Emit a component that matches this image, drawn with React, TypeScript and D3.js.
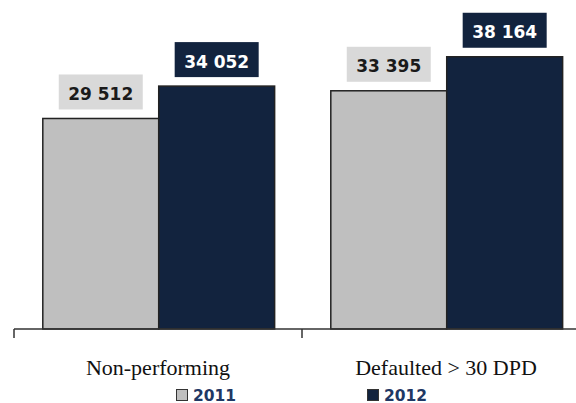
import React from "react";
import * as d3 from "d3";

const categories = ["Non-performing", "Defaulted > 30 DPD"];
const seriesNames = ["2011", "2012"];
const values2011 = [29512, 33395];
const values2012 = [34052, 38164];
const seriesColors = ["#bfbfbf", "#12233e"];
const labelBoxColors = ["#d9d9d9", "#12233e"];
const labelTextColors = ["#1a1a1a", "#ffffff"];

const W = 576;
const H = 403;
const baseY = 329;

export default function App() {
  const series = [values2011, values2012];
  const x0 = d3.scaleBand<string>().domain(categories).range([14, 590]).paddingInner(0).paddingOuter(0);
  const bw = x0.bandwidth();
  const x1 = d3.scaleBand<string>().domain(seriesNames).range([bw * 0.1, bw * 0.905]).padding(0);
  const y = d3.scaleLinear().domain([0, 45000]).range([baseY, 8]);
  const fmt = (v: number) => d3.format(",")(v).replace(/,/g, " ");

  const legendX = [176, 367];

  return (
    <svg width={W} height={H} style={{ position: "absolute", left: 0, top: 0, background: "#fff" }}>
      {categories.map((c, ci) => (
        <g key={c} transform={`translate(${x0(c)},0)`}>
          {seriesNames.map((s, si) => {
            const v = series[si][ci];
            const bx = x1(s)!;
            const w = x1.bandwidth();
            return (
              <rect
                key={s}
                x={bx}
                y={y(v)}
                width={w}
                height={baseY - y(v)}
                fill={seriesColors[si]}
                stroke="#222"
                strokeWidth={1.5}
              />
            );
          })}
          {seriesNames.map((s, si) => {
            const v = series[si][ci];
            const cx = x1(s)! + x1.bandwidth() / 2;
            const boxW = 84;
            const boxH = 35;
            const by = y(v) - 9 - boxH;
            return (
              <g key={"l" + s}>
                <rect x={cx - boxW / 2} y={by} width={boxW} height={boxH} fill={labelBoxColors[si]} />
                <text
                  x={cx}
                  y={by + boxH / 2 + 8}
                  textAnchor="middle"
                  fontFamily="DejaVu Sans"
                  fontWeight="bold"
                  fontSize={17}
                  fill={labelTextColors[si]}
                >
                  {fmt(v)}
                </text>
              </g>
            );
          })}
          <text
            x={bw / 2}
            y={375}
            textAnchor="middle"
            fontFamily="Liberation Serif"
            fontSize={22}
            fill="#111"
          >
            {c}
          </text>
        </g>
      ))}
      <line x1={14} x2={W} y1={baseY} y2={baseY} stroke="#333" strokeWidth={1.5} />
      {categories.map((c) => (
        <line key={"t" + c} x1={x0(c)} x2={x0(c)} y1={baseY} y2={338} stroke="#333" strokeWidth={1.5} />
      ))}
      {seriesNames.map((s, si) => (
        <g key={"lg" + s} transform={`translate(${legendX[si]},389)`}>
          <rect x={0.5} y={0.5} width={11} height={11} fill={seriesColors[si]} stroke="#333" strokeWidth={1} />
          <text x={17} y={11.5} fontFamily="DejaVu Sans" fontWeight="bold" fontSize={15.5} fill="#1f3864">
            {s}
          </text>
        </g>
      ))}
    </svg>
  );
}
